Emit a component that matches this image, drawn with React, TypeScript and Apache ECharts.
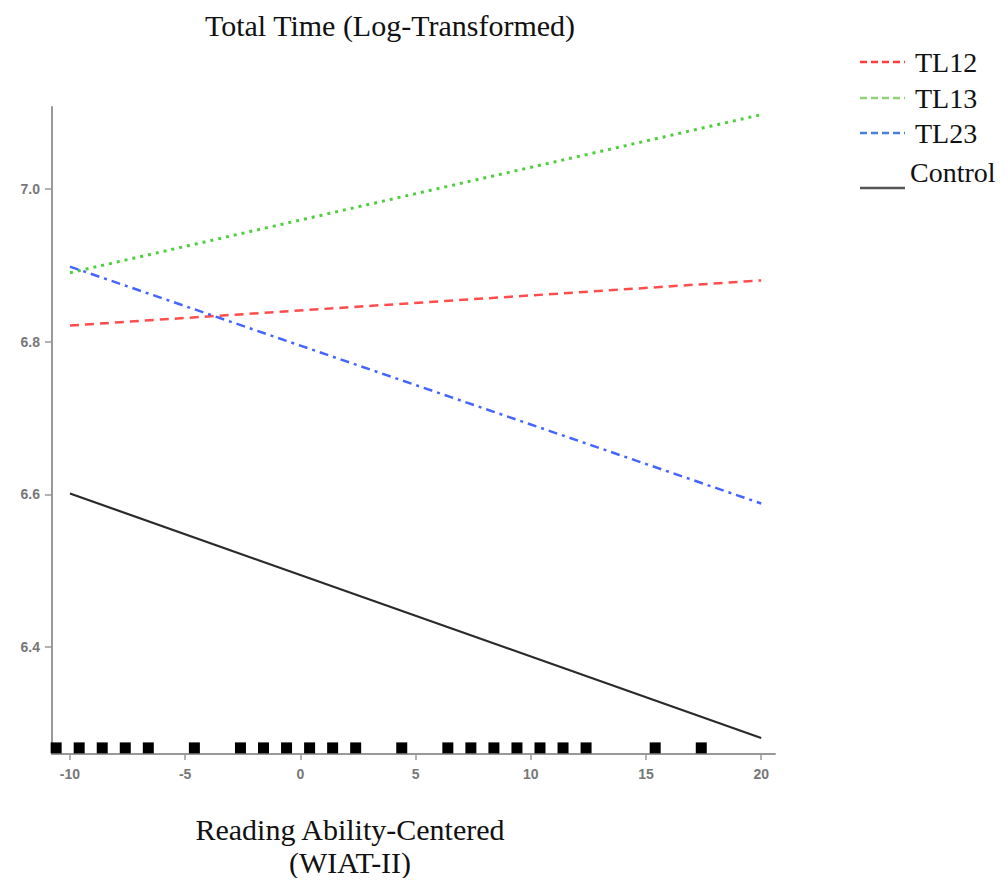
import React, { useEffect, useRef } from "react";
import * as echarts from "echarts";

const xEnds = [-10, 20];
const tl12 = [6.821, 6.88];
const tl13 = [6.89, 7.097];
const tl23 = [6.898, 6.588];
const control = [6.601, 6.281];
const rugX = [-10.6, -9.6, -8.6, -7.6, -6.6, -4.6, -2.6, -1.6, -0.6, 0.4, 1.4, 2.4, 4.4, 6.4, 7.4, 8.4, 9.4, 10.4, 11.4, 12.4, 15.4, 17.4];
const rugY = 6.268;
const xTicks = [-10, -5, 0, 5, 10, 15, 20];
const yTicks = [6.4, 6.6, 6.8, 7.0];
const legendNames = ["TL12", "TL13", "TL23", "Control"];

const serif = "'Liberation Serif', 'DejaVu Serif', serif";
const sans = "'Liberation Sans', Arial, sans-serif";

export default function App() {
  const ref = useRef<HTMLDivElement>(null);
  useEffect(() => {
    if (!ref.current) return;
    const chart = echarts.init(ref.current, undefined, { renderer: "svg" });
    const pts = (ys: number[]) => xEnds.map((x, i) => [x, ys[i]]);
    const legendColors = ["#ff3b3b", "#8fd07a", "#4a7ee0", "#555555"];
    const legendY = [62, 98, 133, 188];
    const legendTextY = [62, 98, 133, 172];
    const graphics: any[] = [];
    legendNames.forEach((n, i) => {
      graphics.push({
        type: "line",
        shape: { x1: 860, y1: legendY[i], x2: 905, y2: legendY[i] },
        style: {
          stroke: legendColors[i],
          lineWidth: 2.5,
          lineDash: i < 3 ? [7, 4] : null,
        },
      });
      graphics.push({
        type: "text",
        x: i < 3 ? 915 : 910,
        y: legendTextY[i],
        style: {
          text: n,
          font: `28px ${serif}`,
          fill: "#111",
          verticalAlign: "middle",
          align: "left",
        },
      });
    });
    graphics.push({
      type: "text",
      x: 350,
      y: 829,
      style: { text: "Reading Ability-Centered", font: `30px ${serif}`, fill: "#111", align: "center", verticalAlign: "middle" },
    });
    graphics.push({
      type: "text",
      x: 350,
      y: 862,
      style: { text: "(WIAT-II)", font: `30px ${serif}`, fill: "#111", align: "center", verticalAlign: "middle" },
    });
    graphics.push({
      type: "text",
      x: 390,
      y: 25,
      style: { text: "Total Time (Log-Transformed)", font: `30px ${serif}`, fill: "#111", align: "center", verticalAlign: "middle" },
    });

    chart.setOption({
      animation: false,
      backgroundColor: "#fff",
      grid: { left: 52, right: 231, top: 107, bottom: 132, containLabel: false },
      xAxis: {
        type: "value",
        min: -10.78,
        max: 20.6,
        splitLine: { show: false },
        axisLine: { onZero: false, lineStyle: { color: "#999", width: 2 } },
        axisTick: { customValues: xTicks, length: 6, inside: false, lineStyle: { color: "#999", width: 1.5 } },
        axisLabel: {
          customValues: xTicks,
          margin: 13,
          color: "#777",
          fontFamily: sans,
          fontSize: 14,
          fontWeight: "bold",
          showMinLabel: true,
          showMaxLabel: true,
        },
      },
      yAxis: {
        type: "value",
        min: 6.26,
        max: 7.107,
        splitLine: { show: false },
        axisLine: { show: true, onZero: false, lineStyle: { color: "#999", width: 2 } },
        axisTick: { show: true, customValues: yTicks, length: 7, lineStyle: { color: "#999", width: 1.5 } },
        axisLabel: {
          customValues: yTicks,
          margin: 12,
          color: "#777",
          fontFamily: sans,
          fontSize: 14,
          fontWeight: "bold",
          formatter: (v: number) => v.toFixed(1),
        },
      },
      series: [
        {
          name: "TL12",
          type: "line",
          data: pts(tl12),
          symbol: "none",
          lineStyle: { color: "#ff4d4d", width: 2.5, type: [9, 6] },
        },
        {
          name: "TL13",
          type: "line",
          data: pts(tl13),
          symbol: "none",
          lineStyle: { color: "#4fcf3f", width: 3, type: [3, 5] },
        },
        {
          name: "TL23",
          type: "line",
          data: pts(tl23),
          symbol: "none",
          lineStyle: { color: "#4466ff", width: 2.5, type: [9, 5, 3, 5] },
        },
        {
          name: "Control",
          type: "line",
          data: pts(control),
          symbol: "none",
          lineStyle: { color: "#2a2a2a", width: 2.2 },
        },
        {
          name: "rug",
          type: "scatter",
          data: rugX.map((x) => [x, rugY]),
          symbol: "rect",
          symbolSize: 11,
          itemStyle: { color: "#000", opacity: 1 },
        },
      ],
      graphic: graphics,
    });
    return () => chart.dispose();
  }, []);
  return <div ref={ref} style={{ width: 1006, height: 886, margin: -8 }} />;
}
